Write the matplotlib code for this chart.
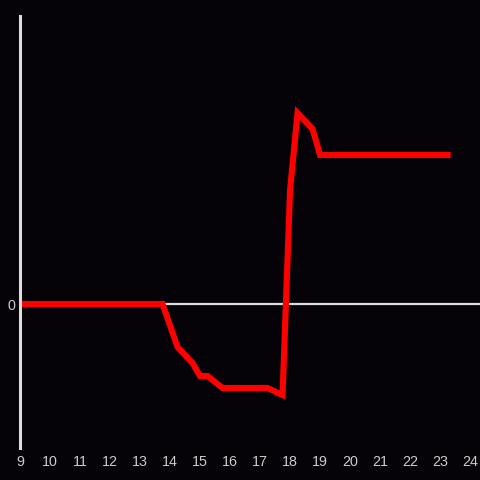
import matplotlib
matplotlib.use('Agg')
import matplotlib.pyplot as plt

# hour of day vs value
hours = [9, 13.75, 14.25, 14.75, 15.0, 15.25, 15.75, 17.25, 17.75, 18.0, 18.25, 18.75, 19.0, 23.25]
values = [0, 0, -43, -59, -72, -72, -84, -84, -91, 114, 191, 175, 149, 149]
x_ticks = list(range(9, 25))

BG = '#050307'
AXIS_COLOR = '#dddddd'

plt.rcParams['font.family'] = ['Liberation Sans', 'DejaVu Sans']


def plot_levels():
    fig = plt.figure(figsize=(4.8, 4.8), dpi=100, facecolor=BG)
    ax = fig.add_axes([20 / 480, 32 / 480, 460 / 480, 432 / 480])
    ax.set_facecolor(BG)

    ax.axhline(0, color=AXIS_COLOR, linewidth=1.6, zorder=1)
    ax.plot(hours, values, color='#ff0000', linewidth=4.4, solid_joinstyle='miter', zorder=2)

    ax.set_xlim(9, 24.33)
    ax.set_ylim(-144, 288)
    ax.set_xticks(x_ticks)
    ax.set_yticks([0])

    for side in ['top', 'right', 'bottom']:
        ax.spines[side].set_visible(False)
    ax.spines['left'].set_color(AXIS_COLOR)
    ax.spines['left'].set_linewidth(2.2)

    ax.tick_params(axis='both', length=0, colors='#cccccc', labelsize=10.3)
    ax.tick_params(axis='x', pad=5)
    ax.tick_params(axis='y', pad=3.5)

    fig.savefig('out.png', facecolor=BG)


if __name__ == '__main__':
    plot_levels()
